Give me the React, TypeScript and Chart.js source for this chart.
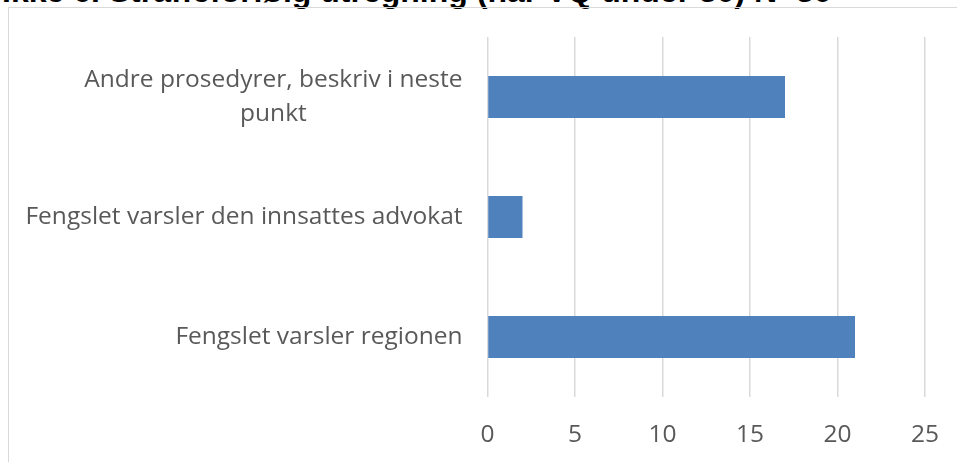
import React, { useEffect, useRef } from "react";
import { Chart, registerables } from "chart.js";

Chart.register(...registerables);

const titleText = "Ikke 6. Straffeforfølg utregning (når VQ under 30) N=30";
const categoryLines: string[][] = [
  ["Andre prosedyrer, beskriv i neste", "punkt"],
  ["Fengslet varsler den innsattes advokat"],
  ["Fengslet varsler regionen"],
];
const values = [17, 2, 21];
const xMin = 0;
const xMax = 25;
const xStep = 5;

const FONT_FAMILY = '"Open Sans", sans-serif';
const FONT_SIZE = 24.5;
const TEXT_COLOR = "#595959";

const yLabelPlugin = {
  id: "yLabelPlugin",
  afterDraw(chart: any) {
    const ctx = chart.ctx;
    const yScale = chart.scales.y;
    ctx.save();
    ctx.font = `${FONT_SIZE}px ${FONT_FAMILY}`;
    ctx.fillStyle = TEXT_COLOR;
    ctx.textBaseline = "middle";
    const right = yScale.right - 25;
    const lineH = 34;
    categoryLines.forEach((lines, i) => {
      const y = yScale.getPixelForTick(i);
      if (lines.length === 1) {
        ctx.textAlign = "right";
        ctx.fillText(lines[0], right, y);
      } else {
        const widest = Math.max(...lines.map((l) => ctx.measureText(l).width));
        const cx = right - widest / 2;
        ctx.textAlign = "center";
        lines.forEach((l, k) => {
          const ly = y + (k - (lines.length - 1) / 2) * lineH;
          ctx.fillText(l, cx, ly);
        });
      }
    });
    ctx.restore();
  },
};

export default function App() {
  const ref = useRef<HTMLCanvasElement>(null);

  useEffect(() => {
    if (!ref.current) return;
    const chart = new Chart(ref.current, {
      type: "bar",
      data: {
        labels: categoryLines.map((l) => l.join(" ")),
        datasets: [
          {
            data: values,
            backgroundColor: "#4f81bd",
            borderWidth: 0,
            barPercentage: 0.35,
            categoryPercentage: 1,
          },
        ],
      },
      options: {
        indexAxis: "y",
        responsive: false,
        animation: false,
        layout: { padding: { top: 29, right: 0, left: 0, bottom: 0 } },
        plugins: {
          legend: { display: false },
          tooltip: { enabled: false },
        },
        scales: {
          x: {
            min: xMin,
            max: xMax,
            ticks: {
              stepSize: xStep,
              color: TEXT_COLOR,
              font: { family: FONT_FAMILY, size: FONT_SIZE },
              padding: 23,
              maxRotation: 0,
            },
            grid: { color: "#d9d9d9", lineWidth: 1.5, drawTicks: false },
            border: { display: false },
            afterFit: (scale: any) => {
              scale.height = 65;
              scale.paddingRight = 32;
            },
          },
          y: {
            ticks: {
              color: "rgba(0,0,0,0)",
              font: { family: FONT_FAMILY, size: 1 },
              padding: 25,
            },
            grid: { display: false, drawTicks: false },
            border: { display: false },
            afterFit: (scale: any) => {
              scale.width = 478.5;
            },
          },
        },
      },
      plugins: [yLabelPlugin],
    });
    return () => chart.destroy();
  }, []);

  return (
    <>
      <div
        style={{
          position: "absolute",
          left: 2,
          top: -25,
          fontFamily: '"Liberation Sans", Arial, sans-serif',
          fontWeight: "bold",
          fontSize: 32,
          lineHeight: "32px",
          color: "#000",
          whiteSpace: "nowrap",
        }}
      >
        {titleText}
      </div>
      <div
        style={{
          position: "absolute",
          left: 8,
          top: 7,
          width: 948,
          height: 454,
          borderTop: "1px solid #d9d9d9",
          borderLeft: "1px solid #d9d9d9",
          background: "transparent",
        }}
      >
        <canvas ref={ref} width={948} height={454} style={{ display: "block" }} />
      </div>
    </>
  );
}
